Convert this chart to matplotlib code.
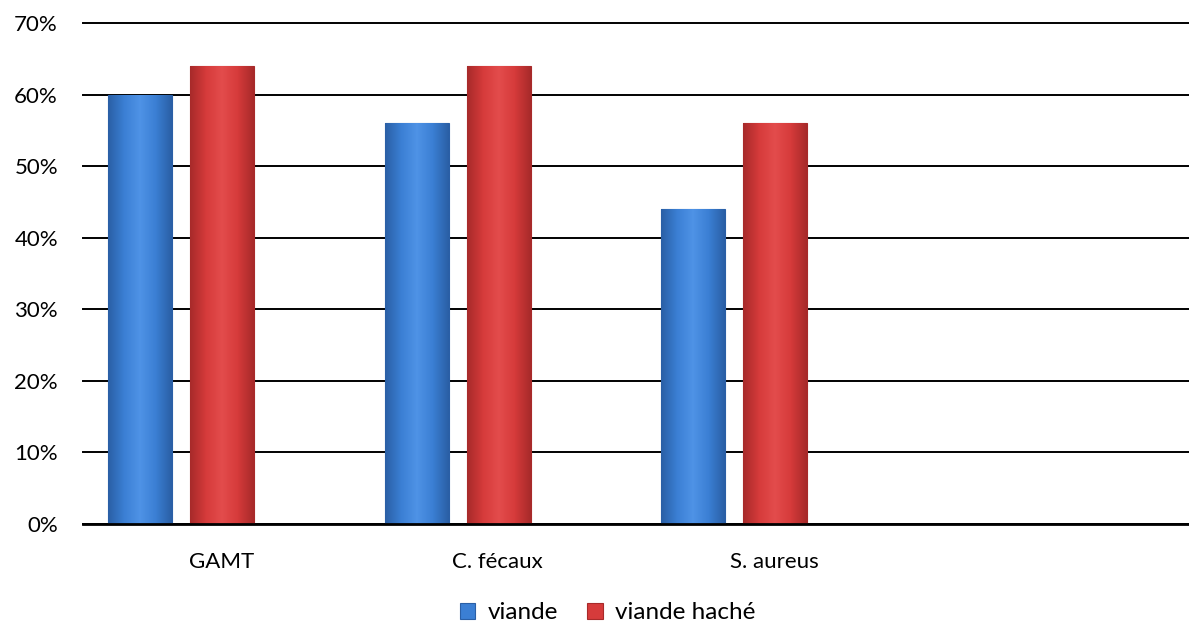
import numpy as np
import matplotlib.pyplot as plt
from matplotlib.colors import LinearSegmentedColormap

categories = ["GAMT", "C. fécaux", "S. aureus", ""]
viande = [60, 56, 44, np.nan]
viande_hache = [64, 64, 56, np.nan]
series_names = ["viande", "viande haché"]
yticks = [0, 10, 20, 30, 40, 50, 60, 70]

plt.rcParams['font.family'] = ['Lato', 'DejaVu Sans']

fig = plt.figure(figsize=(11.89, 6.24), dpi=100)
ax = fig.add_axes([0.0698, 0.1603, 0.9302, 0.8027])

x = np.arange(len(categories))
width = 0.231

colors = ["#3b7fd4", "#d63b3b"]
dark = ["#2a5fa6", "#a82a2a"]
light = ["#4f93e6", "#e34c4c"]

bars1 = ax.bar(x - 0.293, viande, width, color=colors[0], edgecolor=dark[0],
               linewidth=0.8, zorder=3, label=series_names[0])
bars2 = ax.bar(x + 0.004, viande_hache, width, color=colors[1], edgecolor=dark[1],
               linewidth=0.8, zorder=3, label=series_names[1])

# horizontal shading on each bar
for bars, i in [(bars1, 0), (bars2, 1)]:
    cmap = LinearSegmentedColormap.from_list("g", [dark[i], colors[i], light[i], colors[i], dark[i]])
    grad = np.linspace(0, 1, 64).reshape(1, -1)
    for b in bars:
        h = b.get_height()
        if np.isnan(h):
            continue
        x0 = b.get_x()
        im = ax.imshow(grad, cmap=cmap, aspect='auto', zorder=3.5,
                       extent=[x0, x0 + b.get_width(), 0, h])
        im.set_clip_path(b)

ax.set_xlim(-0.5, 3.5)
ax.set_ylim(0, 70)
ax.set_yticks(yticks)
ax.set_yticklabels([f"{v}%" for v in yticks])
ax.set_xticks(x)
ax.set_xticklabels(categories)

ax.yaxis.grid(True, color="black", linewidth=1.4, zorder=1)
for line in ax.get_ygridlines():
    line.set_clip_on(False)
ax.set_axisbelow(True)
for s in ["top", "right", "left"]:
    ax.spines[s].set_visible(False)
ax.spines["bottom"].set_linewidth(2)
ax.spines["bottom"].set_zorder(4)

ax.tick_params(axis="y", length=0, pad=18, labelsize=16)
ax.tick_params(axis="x", length=0, pad=20, labelsize=16)

fig.legend(handles=[bars1, bars2], labels=series_names, loc="center",
           bbox_to_anchor=(0.511, 0.018), ncol=2, frameon=False, fontsize=17.5,
           handlelength=0.65, handleheight=0.65, columnspacing=1.2, handletextpad=0.5)

plt.savefig("out.png", dpi=100)
